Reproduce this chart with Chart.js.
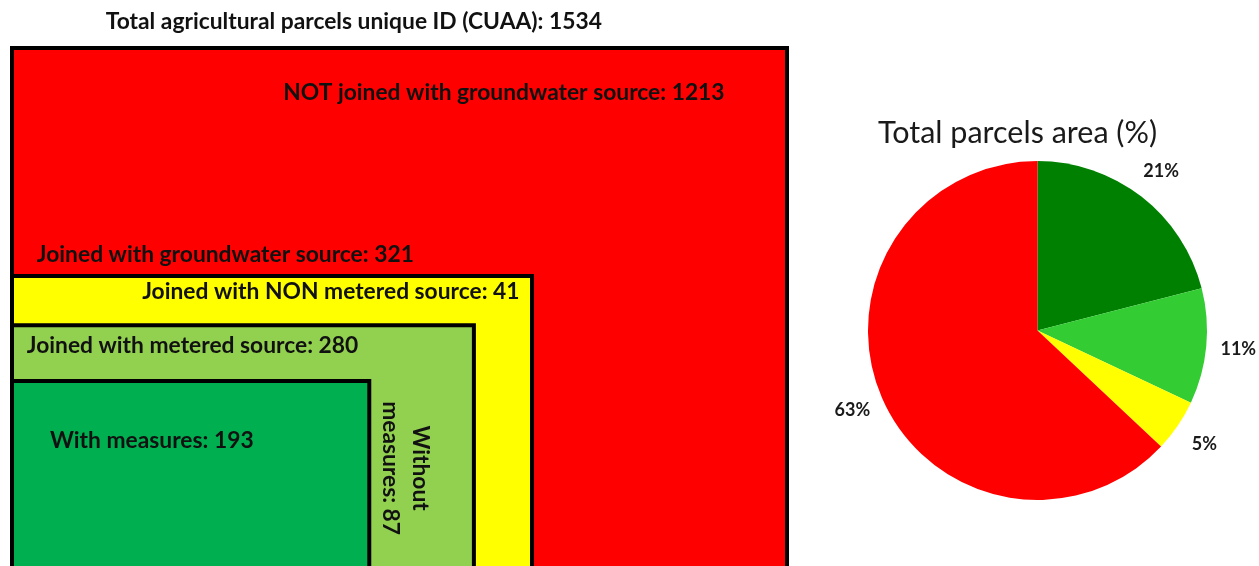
<!DOCTYPE html>
<html>
<head>
<meta charset="utf-8">
<script src="https://cdn.jsdelivr.net/npm/chart.js@4.4.1/dist/chart.umd.min.js"></script>
<style>
  html, body { margin: 0; padding: 0; background: #fff; }
  body { width: 1259px; height: 566px; position: relative; overflow: hidden; }
  #boxWrap { position: absolute; left: 0; top: 0; width: 800px; height: 566px; }
  #pieWrap { position: absolute; left: 820px; top: 100px; width: 439px; height: 466px; }
</style>
</head>
<body>
<div id="boxWrap"><canvas id="boxChart"></canvas></div>
<div id="pieWrap"><canvas id="pieChart"></canvas></div>
<script>
// parcel counts (left panel)
var totalTitle = "Total agricultural parcels unique ID (CUAA)";
var totalCount = 1534;
var groupNames = ["NOT joined with groundwater source", "Joined with groundwater source",
                  "Joined with NON metered source", "Joined with metered source",
                  "With measures", "Without measures"];
var groupCounts = [1213, 321, 41, 280, 193, 87];

// nested boxes: total > joined > metered > with measures
var boxNames = ["Total", "Joined with groundwater source", "Joined with metered source", "With measures"];
var boxColors = ["#FF0000", "#FFFF00", "#92D050", "#00B050"];
// schematic box extents in axis units (right edge, top edge)
var boxRight = [100, 67.1, 59.6, 46.1];
var boxTop = [100, 56.0, 46.5, 35.7];
// label anchors in axis units (left, baseline)
var labelX = [35.0, 3.2, 16.8, 1.9, 4.9, 50.7];
var labelY = [90.0, 58.7, 51.5, 41.1, 22.8, 18.9];

// share of total parcels area (right panel)
var pieTitle = "Total parcels area (%)";
var pieNames = ["With measures", "Without measures", "Joined with NON metered source", "NOT joined with groundwater source"];
var pieValues = [21, 11, 5, 63];
var pieColors = ["#008000", "#33CC33", "#FFFF00", "#FF0000"];

var LABEL_FONT = "bold 22.8px Lato";

var boxText = {
  id: 'boxText',
  afterDraw: function (chart) {
    var ctx = chart.ctx;
    var xs = chart.scales.x, ys = chart.scales.y;
    ctx.save();
    ctx.fillStyle = '#111';
    ctx.font = LABEL_FONT;
    ctx.textBaseline = 'alphabetic';
    ctx.textAlign = 'left';
    ctx.fillText(totalTitle + ': ' + totalCount, xs.getPixelForValue(12.1), ys.getPixelForValue(103.7));
    for (var i = 0; i < groupNames.length; i++) {
      var txt = groupNames[i] + ': ' + groupCounts[i];
      var px = xs.getPixelForValue(labelX[i]);
      var py = ys.getPixelForValue(labelY[i]);
      if (i == 5) {
        // vertical label, split over two lines
        var words = txt.split(' ');
        var lines = [words[0], words.slice(1).join(' ')];
        ctx.save();
        ctx.translate(px, py);
        ctx.rotate(Math.PI / 2);
        ctx.textAlign = 'center';
        ctx.textBaseline = 'middle';
        ctx.fillText(lines[0], 0, -15);
        ctx.fillText(lines[1], 0, 15);
        ctx.restore();
      } else {
        ctx.fillText(txt, px, py);
      }
    }
    ctx.restore();
  }
};

new Chart("boxChart", {
  type: "line",
  data: {
    datasets: boxRight.map(function (r, i) {
      return {
        label: boxNames[i],
        data: [{x: 0, y: 0}, {x: 0, y: boxTop[i]}, {x: r, y: boxTop[i]}, {x: r, y: 0}],
        backgroundColor: boxColors[i],
        borderColor: "#000",
        borderWidth: 4,
        borderJoinStyle: "miter",
        fill: "start",
        pointRadius: 0,
        tension: 0,
        order: boxRight.length - i,
        clip: false
      };
    })
  },
  options: {
    responsive: true,
    maintainAspectRatio: false,
    animation: false,
    events: [],
    layout: { padding: { left: 12, right: 13, top: 48, bottom: 0 } },
    scales: {
      x: { type: "linear", min: 0, max: 100, display: false },
      y: { type: "linear", min: 0, max: 100, display: false }
    },
    plugins: { legend: { display: false }, tooltip: { enabled: false } }
  },
  plugins: [boxText]
});

var pieText = {
  id: 'pieText',
  afterDraw: function (chart) {
    var ctx = chart.ctx;
    var area = chart.chartArea;
    ctx.save();
    ctx.fillStyle = '#1a1a1a';
    ctx.textAlign = 'center';
    ctx.font = "30.5px Lato";
    ctx.textBaseline = 'alphabetic';
    ctx.fillText(pieTitle, (area.left + area.right) / 2 - 20, area.top - 18);
    ctx.font = "bold 18px Lato";
    ctx.textBaseline = 'middle';
    chart.getDatasetMeta(0).data.forEach(function (arc, i) {
      var p = arc.getProps(['x', 'y', 'startAngle', 'endAngle', 'outerRadius']);
      var mid = (p.startAngle + p.endAngle) / 2;
      var r = p.outerRadius * 1.19;
      ctx.fillText(pieValues[i] + '%', p.x + Math.cos(mid) * r, p.y + Math.sin(mid) * r);
    });
    ctx.restore();
  }
};

new Chart("pieChart", {
  type: "pie",
  data: {
    labels: pieNames,
    datasets: [{
      data: pieValues,
      backgroundColor: pieColors,
      borderWidth: 0,
      hoverOffset: 0
    }]
  },
  options: {
    responsive: true,
    maintainAspectRatio: false,
    animation: false,
    events: [],
    layout: { padding: { left: 47, right: 51, top: 61, bottom: 66 } },
    plugins: { legend: { display: false }, tooltip: { enabled: false } }
  },
  plugins: [pieText]
});
</script>
</body>
</html>
